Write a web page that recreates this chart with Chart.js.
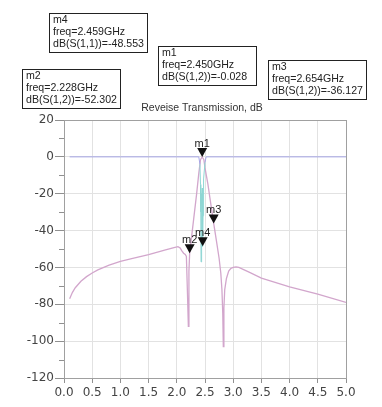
<!DOCTYPE html>
<html>
<head>
<meta charset="utf-8">
<script src="https://cdn.jsdelivr.net/npm/chart.js@4.4.1/dist/chart.umd.min.js"></script>
<style>
html,body{margin:0;padding:0;background:#fff;}
#wrap{width:382px;height:407px;position:relative;}
</style>
</head>
<body>
<div id="wrap"><canvas id="c" width="382" height="407"></canvas></div>
<script>
// ---- data ----
const titleText = "Reveise Transmission, dB";
const s12Freq = [0.1,0.15,0.2,0.3,0.4,0.5,0.6,0.8,1.0,1.2,1.5,1.8,1.95,2.02,2.06,2.09,2.12,2.15,2.17,2.19,2.205,2.215,2.228,2.26,2.3,2.35,2.39,2.42,2.45,2.48,2.5,2.55,2.6,2.654,2.7,2.75,2.78,2.8,2.815,2.825,2.835,2.85,2.88,2.92,2.96,3.0,3.05,3.1,3.3,3.5,4.0,4.5,5.0];
const s12Val  = [-77,-73.5,-71,-67.5,-65,-63,-61.3,-58.7,-56.7,-55.2,-53,-50.5,-49.2,-48.7,-49.5,-51,-52.3,-53,-54,-75,-92,-62,-52.3,-44,-33.5,-20.5,-9,-1.5,-0.03,-1.5,-6,-14.5,-25,-36.1,-45,-55,-63,-72,-85,-103,-82,-72,-66,-62,-60.5,-60,-59.7,-60,-62.8,-65.8,-70.5,-74.5,-79];
const s11Freq = [0.1,1.0,2.0,2.39,2.41,2.42,2.425,2.43,2.435,2.44,2.445,2.45,2.455,2.459,2.465,2.47,2.48,2.5,2.52,3.0,4.0,5.0];
const s11Val  = [0,0,0,0,-4,-15,-30,-57,-28,-20,-26,-17,-30,-48.553,-32,-24,-12,-3,0,0,0,0];
const xTicks = [0,0.5,1,1.5,2,2.5,3,3.5,4,4.5,5];
const yTicks = [20,0,-20,-40,-60,-80,-100,-120];
const markerName  = ["m1","m2","m3","m4"];
const markerFreq  = [2.450,2.228,2.654,2.459];
const markerVal   = [-0.028,-52.302,-36.127,-48.553];
const markerParam = ["dB(S(1,2))","dB(S(1,2))","dB(S(1,2))","dB(S(1,1))"];

// ---- build ----
const pts = (xs, ys) => xs.map((x,i)=>({x:x,y:ys[i]}));
const boxPos = {m4:[49,13], m1:[158,46], m2:[22,69], m3:[268,60]};
const BOX_W = 98, BOX_H = 39;
const FONT = '"Liberation Sans", Arial, sans-serif';

const overlay = {
  id:'overlay',
  afterDatasetsDraw(chart){
    const ctx = chart.ctx, a = chart.chartArea;
    const xs = chart.scales.x, ys = chart.scales.y;
    ctx.save();
    // plot frame
    ctx.strokeStyle = '#a0a0a0'; ctx.lineWidth = 1;
    ctx.strokeRect(Math.round(a.left)+0.5, Math.round(a.top)+0.5, Math.round(a.right-a.left), Math.round(a.bottom-a.top));
    // minor y ticks
    ctx.strokeStyle = '#909090';
    for (let v = -110; v < 20; v += 20) {
      const py = Math.round(ys.getPixelForValue(v)) + 0.5;
      ctx.beginPath(); ctx.moveTo(a.left-5, py); ctx.lineTo(a.left, py); ctx.stroke();
    }
    // markers
    ctx.font = '11px ' + FONT;
    ctx.textAlign = 'center'; ctx.textBaseline = 'alphabetic';
    markerName.forEach((n,i)=>{
      const px = xs.getPixelForValue(markerFreq[i]);
      const py = ys.getPixelForValue(markerVal[i]);
      ctx.fillStyle = '#111';
      ctx.beginPath();
      ctx.moveTo(px, py); ctx.lineTo(px-5, py-9); ctx.lineTo(px+5, py-9); ctx.closePath();
      ctx.fill();
      ctx.fillStyle = '#222';
      ctx.fillText(n, px, py-10);
    });
    // title
    ctx.fillStyle = '#333';
    ctx.font = '10.5px ' + FONT;
    ctx.fillText(titleText, (a.left+a.right)/2 - 3, a.top - 9);
    // marker boxes
    ctx.textAlign = 'left';
    ctx.font = '10.6px ' + FONT;
    markerName.forEach((n,i)=>{
      const p = boxPos[n];
      ctx.fillStyle = '#fff';
      ctx.fillRect(p[0], p[1], BOX_W, BOX_H);
      ctx.strokeStyle = '#222'; ctx.lineWidth = 1;
      ctx.strokeRect(p[0]+0.5, p[1]+0.5, BOX_W, BOX_H);
      ctx.fillStyle = '#222';
      ctx.fillText(n, p[0]+4, p[1]+10);
      ctx.fillText('freq=' + markerFreq[i].toFixed(3) + 'GHz', p[0]+4, p[1]+22);
      ctx.fillText(markerParam[i] + '=' + markerVal[i].toFixed(3), p[0]+4, p[1]+34);
    });
    ctx.restore();
  }
};

new Chart(document.getElementById('c'), {
  type: 'line',
  data: {
    datasets: [
      { label: 'dB(S(1,1))', data: pts(s11Freq, s11Val), borderColor: '#a6a6e6', borderWidth: 1,
        pointRadius: 0, tension: 0,
        segment: { borderColor: c => (c.p0.parsed.x >= 2.41 && c.p1.parsed.x <= 2.5) ? '#8ed6d4' : '#a6a6e6' } },
      { label: 'dB(S(1,2))', data: pts(s12Freq, s12Val), borderColor: '#d2a6cc', borderWidth: 1.3,
        pointRadius: 0, tension: 0 }
    ]
  },
  options: {
    responsive: false, animation: false,
    layout: { padding: { top: 120, right: 36, bottom: 0, left: 0 } },
    plugins: { legend: { display: false }, tooltip: { enabled: false }, title: { display: false } },
    scales: {
      x: {
        type: 'linear', min: 0, max: 5,
        afterBuildTicks: s => { s.ticks = xTicks.map(v=>({value:v})); },
        afterFit: s => { s.height = 29; },
        grid: { color: '#e2e2e2', tickColor: '#909090', tickLength: 5, lineWidth: 1 },
        border: { display: false },
        ticks: { color: '#444', font: { family: 'DejaVu Sans', size: 12 }, padding: 3, maxRotation: 0,
                 callback: v => Number(v).toFixed(1) }
      },
      y: {
        type: 'linear', min: -120, max: 20,
        afterBuildTicks: s => { s.ticks = yTicks.map(v=>({value:v})); },
        afterFit: s => { s.width = 64; },
        grid: { color: '#e2e2e2', tickColor: '#909090', tickLength: 9, lineWidth: 1 },
        border: { display: false },
        ticks: { color: '#444', font: { family: 'DejaVu Sans', size: 12 }, padding: 1,
                 callback: v => String(v) }
      }
    }
  },
  plugins: [overlay]
});
</script>
</body>
</html>
